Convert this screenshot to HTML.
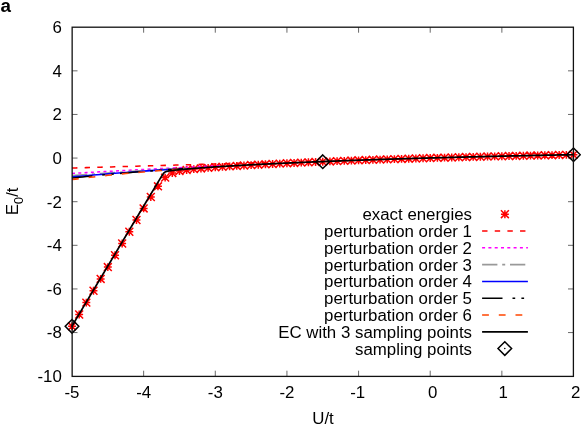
<!DOCTYPE html>
<html><head><meta charset="utf-8"><title>chart</title>
<style>html,body{margin:0;padding:0;background:#fff;overflow:hidden}body{width:581px;height:425px;position:relative;font-family:"Liberation Sans",sans-serif}</style>
</head><body>
<svg width="581" height="425" viewBox="0 0 581 425" style="position:absolute;left:0;top:0;will-change:transform">
<rect x="0" y="0" width="581" height="425" fill="#fff"/>
<path d="M143.64 376.2v-5.5M143.64 27.2v5.5M215.29 376.2v-5.5M215.29 27.2v5.5M286.93 376.2v-5.5M286.93 27.2v5.5M358.57 376.2v-5.5M358.57 27.2v5.5M430.21 376.2v-5.5M430.21 27.2v5.5M501.86 376.2v-5.5M501.86 27.2v5.5M72.0 332.57h5.5M573.5 332.57h-5.5M72.0 288.95h5.5M573.5 288.95h-5.5M72.0 245.32h5.5M573.5 245.32h-5.5M72.0 201.70h5.5M573.5 201.70h-5.5M72.0 158.07h5.5M573.5 158.07h-5.5M72.0 114.45h5.5M573.5 114.45h-5.5M72.0 70.83h5.5M573.5 70.83h-5.5" stroke="#444" stroke-width="0.8" fill="none"/>
<path d="M68.05 326.34h7.9M72.00 322.39v7.9M68.05 322.39l7.9 7.9M68.05 330.29l7.9 -7.9M75.21 314.48h7.9M79.16 310.53v7.9M75.21 310.53l7.9 7.9M75.21 318.43l7.9 -7.9M82.38 302.62h7.9M86.33 298.67v7.9M82.38 298.67l7.9 7.9M82.38 306.57l7.9 -7.9M89.54 290.77h7.9M93.49 286.82v7.9M89.54 286.82l7.9 7.9M89.54 294.72l7.9 -7.9M96.71 278.92h7.9M100.66 274.97v7.9M96.71 274.97l7.9 7.9M96.71 282.87l7.9 -7.9M103.87 267.09h7.9M107.82 263.14v7.9M103.87 263.14l7.9 7.9M103.87 271.04l7.9 -7.9M111.04 255.27h7.9M114.99 251.32v7.9M111.04 251.32l7.9 7.9M111.04 259.22l7.9 -7.9M118.20 243.47h7.9M122.15 239.52v7.9M118.20 239.52l7.9 7.9M118.20 247.42l7.9 -7.9M125.36 231.71h7.9M129.31 227.76v7.9M125.36 227.76l7.9 7.9M125.36 235.66l7.9 -7.9M132.53 220.00h7.9M136.48 216.05v7.9M132.53 216.05l7.9 7.9M132.53 223.95l7.9 -7.9M139.69 208.41h7.9M143.64 204.46v7.9M139.69 204.46l7.9 7.9M139.69 212.36l7.9 -7.9M146.86 197.04h7.9M150.81 193.09v7.9M146.86 193.09l7.9 7.9M146.86 200.99l7.9 -7.9M154.02 186.31h7.9M157.97 182.36v7.9M154.02 182.36l7.9 7.9M154.02 190.26l7.9 -7.9M161.19 177.61h7.9M165.14 173.66v7.9M161.19 173.66l7.9 7.9M161.19 181.56l7.9 -7.9M168.35 173.02h7.9M172.30 169.07v7.9M168.35 169.07l7.9 7.9M168.35 176.97l7.9 -7.9M175.51 171.05h7.9M179.46 167.10v7.9M175.51 167.10l7.9 7.9M175.51 175.00l7.9 -7.9M182.68 169.93h7.9M186.63 165.98v7.9M182.68 165.98l7.9 7.9M182.68 173.88l7.9 -7.9M189.84 169.11h7.9M193.79 165.16v7.9M189.84 165.16l7.9 7.9M189.84 173.06l7.9 -7.9M197.01 168.44h7.9M200.96 164.49v7.9M197.01 164.49l7.9 7.9M197.01 172.39l7.9 -7.9M204.17 167.86h7.9M208.12 163.91v7.9M204.17 163.91l7.9 7.9M204.17 171.81l7.9 -7.9M211.34 167.32h7.9M215.29 163.37v7.9M211.34 163.37l7.9 7.9M211.34 171.27l7.9 -7.9M218.50 166.83h7.9M222.45 162.88v7.9M218.50 162.88l7.9 7.9M218.50 170.78l7.9 -7.9M225.66 166.36h7.9M229.61 162.41v7.9M225.66 162.41l7.9 7.9M225.66 170.31l7.9 -7.9M232.83 165.92h7.9M236.78 161.97v7.9M232.83 161.97l7.9 7.9M232.83 169.87l7.9 -7.9M239.99 165.49h7.9M243.94 161.54v7.9M239.99 161.54l7.9 7.9M239.99 169.44l7.9 -7.9M247.16 165.09h7.9M251.11 161.14v7.9M247.16 161.14l7.9 7.9M247.16 169.04l7.9 -7.9M254.32 164.70h7.9M258.27 160.75v7.9M254.32 160.75l7.9 7.9M254.32 168.65l7.9 -7.9M261.49 164.32h7.9M265.44 160.37v7.9M261.49 160.37l7.9 7.9M261.49 168.27l7.9 -7.9M268.65 163.96h7.9M272.60 160.01v7.9M268.65 160.01l7.9 7.9M268.65 167.91l7.9 -7.9M275.81 163.61h7.9M279.76 159.66v7.9M275.81 159.66l7.9 7.9M275.81 167.56l7.9 -7.9M282.98 163.27h7.9M286.93 159.32v7.9M282.98 159.32l7.9 7.9M282.98 167.22l7.9 -7.9M290.14 162.94h7.9M294.09 158.99v7.9M290.14 158.99l7.9 7.9M290.14 166.89l7.9 -7.9M297.31 162.62h7.9M301.26 158.67v7.9M297.31 158.67l7.9 7.9M297.31 166.57l7.9 -7.9M304.47 162.31h7.9M308.42 158.36v7.9M304.47 158.36l7.9 7.9M304.47 166.26l7.9 -7.9M311.64 162.00h7.9M315.59 158.05v7.9M311.64 158.05l7.9 7.9M311.64 165.95l7.9 -7.9M318.80 161.71h7.9M322.75 157.76v7.9M318.80 157.76l7.9 7.9M318.80 165.66l7.9 -7.9M325.96 161.42h7.9M329.91 157.47v7.9M325.96 157.47l7.9 7.9M325.96 165.37l7.9 -7.9M333.13 161.14h7.9M337.08 157.19v7.9M333.13 157.19l7.9 7.9M333.13 165.09l7.9 -7.9M340.29 160.87h7.9M344.24 156.92v7.9M340.29 156.92l7.9 7.9M340.29 164.82l7.9 -7.9M347.46 160.60h7.9M351.41 156.65v7.9M347.46 156.65l7.9 7.9M347.46 164.55l7.9 -7.9M354.62 160.34h7.9M358.57 156.39v7.9M354.62 156.39l7.9 7.9M354.62 164.29l7.9 -7.9M361.79 160.09h7.9M365.74 156.14v7.9M361.79 156.14l7.9 7.9M361.79 164.04l7.9 -7.9M368.95 159.84h7.9M372.90 155.89v7.9M368.95 155.89l7.9 7.9M368.95 163.79l7.9 -7.9M376.11 159.60h7.9M380.06 155.65v7.9M376.11 155.65l7.9 7.9M376.11 163.55l7.9 -7.9M383.28 159.36h7.9M387.23 155.41v7.9M383.28 155.41l7.9 7.9M383.28 163.31l7.9 -7.9M390.44 159.13h7.9M394.39 155.18v7.9M390.44 155.18l7.9 7.9M390.44 163.08l7.9 -7.9M397.61 158.91h7.9M401.56 154.96v7.9M397.61 154.96l7.9 7.9M397.61 162.86l7.9 -7.9M404.77 158.69h7.9M408.72 154.74v7.9M404.77 154.74l7.9 7.9M404.77 162.64l7.9 -7.9M411.94 158.47h7.9M415.89 154.52v7.9M411.94 154.52l7.9 7.9M411.94 162.42l7.9 -7.9M419.10 158.26h7.9M423.05 154.31v7.9M419.10 154.31l7.9 7.9M419.10 162.21l7.9 -7.9M426.26 158.05h7.9M430.21 154.10v7.9M426.26 154.10l7.9 7.9M426.26 162.00l7.9 -7.9M433.43 157.85h7.9M437.38 153.90v7.9M433.43 153.90l7.9 7.9M433.43 161.80l7.9 -7.9M440.59 157.65h7.9M444.54 153.70v7.9M440.59 153.70l7.9 7.9M440.59 161.60l7.9 -7.9M447.76 157.46h7.9M451.71 153.51v7.9M447.76 153.51l7.9 7.9M447.76 161.41l7.9 -7.9M454.92 157.27h7.9M458.87 153.32v7.9M454.92 153.32l7.9 7.9M454.92 161.22l7.9 -7.9M462.09 157.08h7.9M466.04 153.13v7.9M462.09 153.13l7.9 7.9M462.09 161.03l7.9 -7.9M469.25 156.90h7.9M473.20 152.95v7.9M469.25 152.95l7.9 7.9M469.25 160.85l7.9 -7.9M476.41 156.73h7.9M480.36 152.78v7.9M476.41 152.78l7.9 7.9M476.41 160.68l7.9 -7.9M483.58 156.55h7.9M487.53 152.60v7.9M483.58 152.60l7.9 7.9M483.58 160.50l7.9 -7.9M490.74 156.38h7.9M494.69 152.43v7.9M490.74 152.43l7.9 7.9M490.74 160.33l7.9 -7.9M497.91 156.22h7.9M501.86 152.27v7.9M497.91 152.27l7.9 7.9M497.91 160.17l7.9 -7.9M505.07 156.06h7.9M509.02 152.11v7.9M505.07 152.11l7.9 7.9M505.07 160.01l7.9 -7.9M512.24 155.90h7.9M516.19 151.95v7.9M512.24 151.95l7.9 7.9M512.24 159.85l7.9 -7.9M519.40 155.74h7.9M523.35 151.79v7.9M519.40 151.79l7.9 7.9M519.40 159.69l7.9 -7.9M526.56 155.59h7.9M530.51 151.64v7.9M526.56 151.64l7.9 7.9M526.56 159.54l7.9 -7.9M533.73 155.44h7.9M537.68 151.49v7.9M533.73 151.49l7.9 7.9M533.73 159.39l7.9 -7.9M540.89 155.30h7.9M544.84 151.35v7.9M540.89 151.35l7.9 7.9M540.89 159.25l7.9 -7.9M548.06 155.15h7.9M552.01 151.20v7.9M548.06 151.20l7.9 7.9M548.06 159.10l7.9 -7.9M555.22 155.02h7.9M559.17 151.07v7.9M555.22 151.07l7.9 7.9M555.22 158.97l7.9 -7.9M562.39 154.88h7.9M566.34 150.93v7.9M562.39 150.93l7.9 7.9M562.39 158.83l7.9 -7.9M569.55 154.75h7.9M573.50 150.80v7.9M569.55 150.80l7.9 7.9M569.55 158.70l7.9 -7.9" stroke="#ff0000" stroke-width="1.5" fill="none"/>
<path d="M72.00 168.01 L75.58 167.91 L79.16 167.81 L82.75 167.71 L86.33 167.61 L89.91 167.51 L93.49 167.41 L97.07 167.31 L100.66 167.21 L104.24 167.10 L107.82 167.00 L111.40 166.90 L114.99 166.80 L118.57 166.70 L122.15 166.60 L125.73 166.50 L129.31 166.40 L132.90 166.30 L136.48 166.20 L140.06 166.10 L143.64 166.00 L147.22 165.90 L150.81 165.80 L154.39 165.70 L157.97 165.59 L161.55 165.49 L165.14 165.39 L168.72 165.29 L172.30 165.19 L175.88 165.09 L179.46 164.99 L183.05 164.89 L186.63 164.79 L190.21 164.69 L193.79 164.59 L197.38 164.49 L200.96 164.39 L204.54 164.29 L208.12 164.19 L211.70 164.08 L215.29 163.98 L218.87 163.88 L222.45 163.78 L226.03 163.68 L229.61 163.58 L233.20 163.48 L236.78 163.38 L240.36 163.28 L243.94 163.18 L247.53 163.08 L251.11 162.98 L254.69 162.88 L258.27 162.78 L261.85 162.68 L265.44 162.57 L269.02 162.47 L272.60 162.37" fill="none" stroke="#ff0000" stroke-width="1.55" stroke-dasharray="5.4 7.25"/>
<path d="M72.00 173.46 L75.58 173.25 L79.16 173.05 L82.75 172.84 L86.33 172.63 L89.91 172.43 L93.49 172.22 L97.07 172.02 L100.66 171.82 L104.24 171.62 L107.82 171.42 L111.40 171.22 L114.99 171.03 L118.57 170.83 L122.15 170.63 L125.73 170.44 L129.31 170.25 L132.90 170.06 L136.48 169.87 L140.06 169.68 L143.64 169.49 L147.22 169.30 L150.81 169.11 L154.39 168.93 L157.97 168.74 L161.55 168.56 L165.14 168.38 L168.72 168.20 L172.30 168.02 L175.88 167.84 L179.46 167.66 L183.05 167.49 L186.63 167.31 L190.21 167.14 L193.79 166.96 L197.38 166.79 L200.96 166.62 L204.54 166.45 L208.12 166.28 L211.70 166.11 L215.29 165.95 L218.87 165.78 L222.45 165.62" fill="none" stroke="#ff00ff" stroke-width="1.55" stroke-dasharray="3 3.3"/>
<path d="M72.00 175.64 L75.58 175.37 L79.16 175.10 L82.75 174.83 L86.33 174.56 L89.91 174.30 L93.49 174.04 L97.07 173.78 L100.66 173.52 L104.24 173.26 L107.82 173.01 L111.40 172.76 L114.99 172.51 L118.57 172.27 L122.15 172.02 L125.73 171.78 L129.31 171.54 L132.90 171.30 L136.48 171.07 L140.06 170.83 L143.64 170.60 L147.22 170.38 L150.81 170.15 L154.39 169.92 L157.97 169.70 L161.55 169.48 L165.14 169.26 L168.72 169.05 L172.30 168.83 L175.88 168.62 L179.46 168.41 L183.05 168.20 L186.63 168.00" fill="none" stroke="#999999" stroke-width="1.55" stroke-dasharray="15.3 4.8 3 4.8"/>
<path d="M72.00 176.95 L75.58 176.63 L79.16 176.31 L82.75 175.99 L86.33 175.67 L89.91 175.36 L93.49 175.06 L97.07 174.76 L100.66 174.46 L104.24 174.16 L107.82 173.87 L111.40 173.58 L114.99 173.30 L118.57 173.02 L122.15 172.74 L125.73 172.46 L129.31 172.19 L132.90 171.92 L136.48 171.66 L140.06 171.40 L143.64 171.14 L147.22 170.89 L150.81 170.63 L154.39 170.38 L157.97 170.14 L161.55 169.90 L165.14 169.66 L168.72 169.42 L172.30 169.18 L175.88 168.95 L179.46 168.73 L183.05 168.50" fill="none" stroke="#0000ff" stroke-width="1.55"/>
<path d="M72.00 178.04 L75.58 177.67 L79.16 177.29 L82.75 176.93 L86.33 176.56 L89.91 176.21 L93.49 175.86 L97.07 175.51 L100.66 175.18 L104.24 174.84 L107.82 174.51 L111.40 174.19 L114.99 173.87 L118.57 173.56 L122.15 173.25 L125.73 172.95 L129.31 172.65 L132.90 172.35 L136.48 172.06 L140.06 171.78 L143.64 171.50 L147.22 171.22 L150.81 170.95 L154.39 170.68 L157.97 170.42 L161.55 170.15 L165.14 169.90 L168.72 169.64 L172.30 169.40 L175.88 169.15 L179.46 168.91 L183.05 168.67" fill="none" stroke="#000000" stroke-width="1.55" stroke-dasharray="20.4 10 2.7 6.2 2.7 6.2"/>
<path d="M72.00 179.58 L75.58 179.11 L79.16 178.65 L82.75 178.20 L86.33 177.76 L89.91 177.34 L93.49 176.92 L97.07 176.51 L100.66 176.11 L104.24 175.71 L107.82 175.33 L111.40 174.95 L114.99 174.58 L118.57 174.22 L122.15 173.87 L125.73 173.53 L129.31 173.19 L132.90 172.86 L136.48 172.53 L140.06 172.21 L143.64 171.90 L147.22 171.59 L150.81 171.29 L154.39 171.00 L157.97 170.71 L161.55 170.43 L165.14 170.15 L168.72 169.88 L172.30 169.61 L175.88 169.35 L179.46 169.09 L183.05 168.84" fill="none" stroke="#ff4500" stroke-width="1.55" stroke-dasharray="6.8 9.9"/>
<path d="M72.00 326.05 L73.43 323.65 L74.87 321.25 L76.30 318.85 L77.73 316.45 L79.16 314.05 L80.60 311.65 L82.03 309.25 L83.46 306.85 L84.90 304.45 L86.33 302.05 L87.76 299.65 L89.19 297.25 L90.63 294.85 L92.06 292.45 L93.49 290.06 L94.93 287.66 L96.36 285.26 L97.79 282.86 L99.22 280.46 L100.66 278.06 L102.09 275.66 L103.52 273.26 L104.96 270.86 L106.39 268.46 L107.82 266.06 L109.25 263.66 L110.69 261.26 L112.12 258.87 L113.55 256.47 L114.99 254.07 L116.42 251.67 L117.85 249.27 L119.28 246.87 L120.72 244.47 L122.15 242.07 L123.58 239.67 L125.02 237.28 L126.45 234.88 L127.88 232.48 L129.31 230.08 L130.75 227.68 L132.18 225.28 L133.61 222.88 L135.05 220.49 L136.48 218.09 L137.91 215.69 L139.34 213.29 L140.78 210.89 L142.21 208.50 L143.64 206.10 L145.08 203.70 L146.51 201.31 L147.94 198.91 L149.37 196.52 L150.81 194.12 L152.24 191.73 L153.67 189.34 L155.11 186.95 L156.54 184.57 L157.97 182.19 L159.40 179.82 L160.84 177.48 L162.27 175.21 L163.70 173.17 L165.14 171.92 L166.57 171.41 L168.00 171.12 L169.43 170.89 L170.87 170.69 L172.30 170.51 L173.73 170.34 L175.17 170.18 L176.60 170.02 L178.03 169.87 L179.46 169.72 L180.90 169.57 L182.33 169.43 L183.76 169.30 L185.20 169.17 L186.63 169.04 L188.06 168.91 L189.49 168.78 L190.93 168.66 L192.36 168.54 L193.79 168.42 L195.23 168.31 L196.66 168.20 L198.09 168.08 L199.52 167.98 L200.96 167.87 L202.39 167.76 L203.82 167.66 L205.26 167.55 L206.69 167.45 L208.12 167.35 L209.55 167.25 L210.99 167.15 L212.42 167.06 L213.85 166.96 L215.29 166.87 L216.72 166.77 L218.15 166.68 L219.58 166.59 L221.02 166.50 L222.45 166.41 L223.88 166.32 L225.32 166.24 L226.75 166.15 L228.18 166.06 L229.61 165.98 L231.05 165.89 L232.48 165.81 L233.91 165.73 L235.35 165.65 L236.78 165.56 L238.21 165.48 L239.64 165.40 L241.08 165.32 L242.51 165.24 L243.94 165.17 L245.38 165.09 L246.81 165.01 L248.24 164.93 L249.67 164.86 L251.11 164.78 L252.54 164.71 L253.97 164.63 L255.41 164.56 L256.84 164.49 L258.27 164.41 L259.70 164.34 L261.14 164.27 L262.57 164.20 L264.00 164.13 L265.44 164.05 L266.87 163.98 L268.30 163.91 L269.73 163.85 L271.17 163.78 L272.60 163.71 L274.03 163.64 L275.47 163.57 L276.90 163.50 L278.33 163.44 L279.76 163.37 L281.20 163.30 L282.63 163.24 L284.06 163.17 L285.50 163.11 L286.93 163.04 L288.36 162.98 L289.79 162.92 L291.23 162.85 L292.66 162.79 L294.09 162.73 L295.53 162.66 L296.96 162.60 L298.39 162.54 L299.82 162.48 L301.26 162.42 L302.69 162.35 L304.12 162.29 L305.56 162.23 L306.99 162.17 L308.42 162.11 L309.85 162.05 L311.29 162.00 L312.72 161.94 L314.15 161.88 L315.59 161.82 L317.02 161.76 L318.45 161.70 L319.88 161.65 L321.32 161.59 L322.75 161.53 L324.18 161.48 L325.62 161.42 L327.05 161.36 L328.48 161.31 L329.91 161.25 L331.35 161.20 L332.78 161.14 L334.21 161.09 L335.65 161.03 L337.08 160.98 L338.51 160.93 L339.94 160.87 L341.38 160.82 L342.81 160.77 L344.24 160.71 L345.68 160.66 L347.11 160.61 L348.54 160.56 L349.97 160.51 L351.41 160.45 L352.84 160.40 L354.27 160.35 L355.71 160.30 L357.14 160.25 L358.57 160.20 L360.00 160.15 L361.44 160.10 L362.87 160.05 L364.30 160.00 L365.74 159.95 L367.17 159.90 L368.60 159.85 L370.03 159.80 L371.47 159.76 L372.90 159.71 L374.33 159.66 L375.77 159.61 L377.20 159.56 L378.63 159.52 L380.06 159.47 L381.50 159.42 L382.93 159.38 L384.36 159.33 L385.80 159.28 L387.23 159.24 L388.66 159.19 L390.09 159.15 L391.53 159.10 L392.96 159.06 L394.39 159.01 L395.83 158.97 L397.26 158.92 L398.69 158.88 L400.12 158.83 L401.56 158.79 L402.99 158.74 L404.42 158.70 L405.86 158.66 L407.29 158.61 L408.72 158.57 L410.15 158.53 L411.59 158.49 L413.02 158.44 L414.45 158.40 L415.89 158.36 L417.32 158.32 L418.75 158.27 L420.18 158.23 L421.62 158.19 L423.05 158.15 L424.48 158.11 L425.92 158.07 L427.35 158.03 L428.78 157.99 L430.21 157.95 L431.65 157.91 L433.08 157.87 L434.51 157.83 L435.95 157.79 L437.38 157.75 L438.81 157.71 L440.24 157.67 L441.68 157.63 L443.11 157.59 L444.54 157.55 L445.98 157.51 L447.41 157.48 L448.84 157.44 L450.27 157.40 L451.71 157.36 L453.14 157.32 L454.57 157.29 L456.01 157.25 L457.44 157.21 L458.87 157.18 L460.30 157.14 L461.74 157.10 L463.17 157.07 L464.60 157.03 L466.04 156.99 L467.47 156.96 L468.90 156.92 L470.33 156.88 L471.77 156.85 L473.20 156.81 L474.63 156.78 L476.07 156.74 L477.50 156.71 L478.93 156.67 L480.36 156.64 L481.80 156.60 L483.23 156.57 L484.66 156.54 L486.10 156.50 L487.53 156.47 L488.96 156.43 L490.39 156.40 L491.83 156.37 L493.26 156.33 L494.69 156.30 L496.13 156.27 L497.56 156.23 L498.99 156.20 L500.42 156.17 L501.86 156.14 L503.29 156.10 L504.72 156.07 L506.16 156.04 L507.59 156.01 L509.02 155.98 L510.45 155.94 L511.89 155.91 L513.32 155.88 L514.75 155.85 L516.19 155.82 L517.62 155.79 L519.05 155.76 L520.48 155.73 L521.92 155.69 L523.35 155.66 L524.78 155.63 L526.22 155.60 L527.65 155.57 L529.08 155.54 L530.51 155.51 L531.95 155.48 L533.38 155.45 L534.81 155.43 L536.25 155.40 L537.68 155.37 L539.11 155.34 L540.54 155.31 L541.98 155.28 L543.41 155.25 L544.84 155.22 L546.28 155.20 L547.71 155.17 L549.14 155.14 L550.57 155.11 L552.01 155.08 L553.44 155.06 L554.87 155.03 L556.31 155.00 L557.74 154.97 L559.17 154.95 L560.60 154.92 L562.04 154.89 L563.47 154.86 L564.90 154.84 L566.34 154.81 L567.77 154.79 L569.20 154.76 L570.63 154.73 L572.07 154.71 L573.50 154.68" fill="none" stroke="#000000" stroke-width="1.7"/>
<path d="M72.00 319.54L78.80 326.34L72.00 333.14L65.20 326.34Z" stroke="#000" stroke-width="1.5" fill="none"/>
<circle cx="72.00" cy="326.34" r="0.8" fill="#000"/>
<path d="M322.75 154.91L329.55 161.71L322.75 168.51L315.95 161.71Z" stroke="#000" stroke-width="1.5" fill="none"/>
<circle cx="322.75" cy="161.71" r="0.8" fill="#000"/>
<path d="M573.50 147.95L580.30 154.75L573.50 161.55L566.70 154.75Z" stroke="#000" stroke-width="1.5" fill="none"/>
<circle cx="573.50" cy="154.75" r="0.8" fill="#000"/>
<rect x="72.15" y="27.2" width="501.25" height="349.20" fill="none" stroke="#111" stroke-width="1.3"/>
<path d="M500.95 214.20h7.9M504.90 210.25v7.9M500.95 210.25l7.9 7.9M500.95 218.15l7.9 -7.9" stroke="#ff0000" stroke-width="1.5" fill="none"/>
<path d="M482.1 231.00H527.9" fill="none" stroke="#ff0000" stroke-width="1.55" stroke-dasharray="5.4 7.25"/>
<path d="M482.1 247.80H527.9" fill="none" stroke="#ff00ff" stroke-width="1.55" stroke-dasharray="3 3.3"/>
<path d="M482.1 264.60H527.9" fill="none" stroke="#999999" stroke-width="1.55" stroke-dasharray="15.3 4.8 3 4.8"/>
<path d="M482.1 281.40H527.9" fill="none" stroke="#0000ff" stroke-width="1.55"/>
<path d="M482.1 298.20H527.9" fill="none" stroke="#000000" stroke-width="1.55" stroke-dasharray="20.4 10 2.7 6.2 2.7 6.2"/>
<path d="M482.1 315.00H527.9" fill="none" stroke="#ff4500" stroke-width="1.55" stroke-dasharray="6.8 9.9"/>
<path d="M482.1 331.80H527.9" fill="none" stroke="#000000" stroke-width="1.7"/>
<path d="M504.80 341.75L511.60 348.55L504.80 355.35L498.00 348.55Z" stroke="#000" stroke-width="1.5" fill="none"/>
<circle cx="504.8" cy="348.55" r="0.8" fill="#000"/>
<g font-family="Liberation Sans, sans-serif" font-size="16.85" fill="#000">
<text class="leg" x="472.0" y="220.10" text-anchor="end">exact energies</text>
<text class="leg" x="472.0" y="236.90" text-anchor="end">perturbation order 1</text>
<text class="leg" x="472.0" y="253.70" text-anchor="end">perturbation order 2</text>
<text class="leg" x="472.0" y="270.50" text-anchor="end">perturbation order 3</text>
<text class="leg" x="472.0" y="287.30" text-anchor="end">perturbation order 4</text>
<text class="leg" x="472.0" y="304.10" text-anchor="end">perturbation order 5</text>
<text class="leg" x="472.0" y="320.90" text-anchor="end">perturbation order 6</text>
<text class="leg" x="472.0" y="337.70" text-anchor="end">EC with 3 sampling points</text>
<text class="leg" x="472.0" y="354.50" text-anchor="end">sampling points</text>
<text class="xt" x="72.00" y="398.2" text-anchor="middle">-5</text>
<text class="xt" x="143.64" y="398.2" text-anchor="middle">-4</text>
<text class="xt" x="215.29" y="398.2" text-anchor="middle">-3</text>
<text class="xt" x="286.93" y="398.2" text-anchor="middle">-2</text>
<text class="xt" x="357.77" y="398.2" text-anchor="middle">-1</text>
<text class="xt" x="432.81" y="398.2" text-anchor="middle">0</text>
<text class="xt" x="503.26" y="398.2" text-anchor="middle">1</text>
<text class="xt" x="575.70" y="398.2" text-anchor="middle">2</text>
<text class="yt" x="61.8" y="382.10" text-anchor="end">-10</text>
<text class="yt" x="61.8" y="338.47" text-anchor="end">-8</text>
<text class="yt" x="61.8" y="294.85" text-anchor="end">-6</text>
<text class="yt" x="61.8" y="251.22" text-anchor="end">-4</text>
<text class="yt" x="61.8" y="207.60" text-anchor="end">-2</text>
<text class="yt" x="61.8" y="163.97" text-anchor="end">0</text>
<text class="yt" x="61.8" y="120.35" text-anchor="end">2</text>
<text class="yt" x="61.8" y="76.73" text-anchor="end">4</text>
<text class="yt" x="61.8" y="33.10" text-anchor="end">6</text>
<text id="xl" x="323" y="423.8" text-anchor="middle">U/t</text>
<text id="yl" transform="translate(17.65,201.4) rotate(-90)" text-anchor="middle" font-size="16.4">E<tspan font-size="13.2" dy="5.2">0</tspan><tspan dy="-5.2">/t</tspan></text>
<text id="pa" x="0.6" y="12.4" font-weight="bold" font-size="18.8">a</text>
</g>
</svg>
</body></html>
